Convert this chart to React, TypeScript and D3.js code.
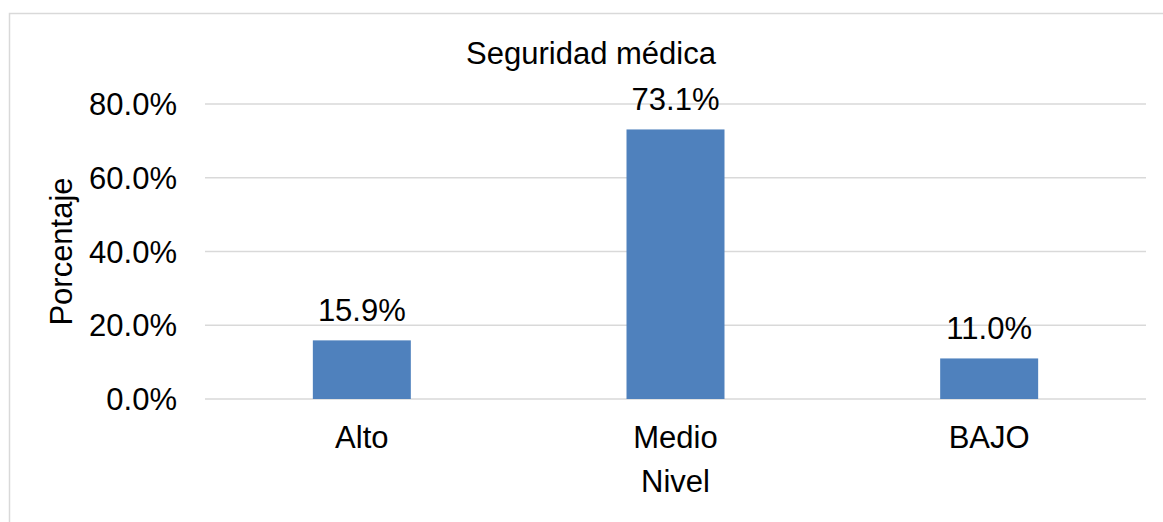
import React, { useEffect, useRef } from "react";
import * as d3 from "d3";

const categorias = ["Alto", "Medio", "BAJO"];
const porcentajes = [15.9, 73.1, 11.0];
const ticksY = [0, 20, 40, 60, 80];

const W = 1163;
const H = 522;
const FONT = "'Liberation Sans', Arial, sans-serif";

export default function App() {
  const ref = useRef<SVGSVGElement>(null);

  useEffect(() => {
    const svg = d3.select(ref.current);
    svg.selectAll("*").remove();

    const left = 205, right = 1146, top = 104, bottom = 399;

    const x = d3.scaleBand<string>()
      .domain(categorias)
      .range([left, right])
      .paddingInner(0.6876)
      .paddingOuter(0.3438);
    const y = d3.scaleLinear().domain([0, 80]).range([bottom, top]);

    svg.append("rect")
      .attr("x", 9.5).attr("y", 13.5)
      .attr("width", W + 20).attr("height", H + 20)
      .attr("fill", "#fff")
      .attr("stroke", "#d9d9d9")
      .attr("stroke-width", 1.5);

    // lineas de cuadricula
    svg.append("g").selectAll("line")
      .data(ticksY)
      .enter().append("line")
      .attr("x1", left).attr("x2", right)
      .attr("y1", d => y(d)).attr("y2", d => y(d))
      .attr("stroke", "#d9d9d9")
      .attr("stroke-width", 1.5);

    // etiquetas eje Y
    svg.append("g").selectAll("text")
      .data(ticksY)
      .enter().append("text")
      .attr("x", 177)
      .attr("y", d => y(d) + 11)
      .attr("text-anchor", "end")
      .text(d => d.toFixed(1) + "%");

    const datos = categorias.map((c, i) => ({ c, v: porcentajes[i] }));

    svg.append("g").selectAll("rect")
      .data(datos)
      .enter().append("rect")
      .attr("x", d => x(d.c)!)
      .attr("y", d => y(d.v))
      .attr("width", x.bandwidth())
      .attr("height", d => y(0) - y(d.v))
      .attr("fill", "#4f81bd");

    // valores sobre las barras
    svg.append("g").selectAll("text")
      .data(datos)
      .enter().append("text")
      .attr("x", d => x(d.c)! + x.bandwidth() / 2)
      .attr("y", d => y(d.v) - 19)
      .attr("text-anchor", "middle")
      .text(d => d.v.toFixed(1) + "%");

    // categorias eje X
    svg.append("g").selectAll("text")
      .data(categorias)
      .enter().append("text")
      .attr("x", d => x(d)! + x.bandwidth() / 2)
      .attr("y", 448)
      .attr("text-anchor", "middle")
      .text(d => d);

    svg.append("text")
      .attr("x", (left + right) / 2)
      .attr("y", 492)
      .attr("text-anchor", "middle")
      .text("Nivel");

    svg.append("text")
      .attr("transform", `translate(72,${(top + bottom) / 2}) rotate(-90)`)
      .attr("text-anchor", "middle")
      .text("Porcentaje");

    svg.append("text")
      .attr("x", 591)
      .attr("y", 64)
      .attr("text-anchor", "middle")
      .text("Seguridad médica");
  }, []);

  return (
    <div style={{ position: "fixed", left: 0, top: 0 }}>
      <svg ref={ref} width={W} height={H}
        style={{ display: "block", fontFamily: FONT, fontSize: 31, fill: "#000" }} />
    </div>
  );
}
